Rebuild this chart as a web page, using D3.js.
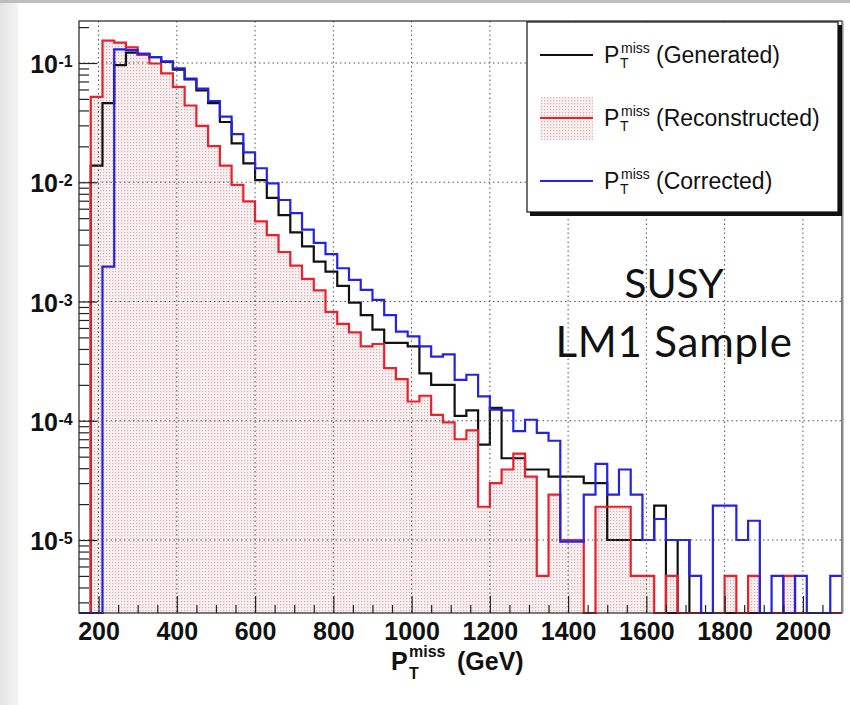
<!DOCTYPE html>
<html>
<head>
<meta charset="utf-8">
<script src="https://cdnjs.cloudflare.com/ajax/libs/d3/7.8.5/d3.min.js"></script>
<style>
  html, body { margin: 0; padding: 0; background: #fff; }
  svg { display: block; }
</style>
</head>
<body>
<div id="chart"></div>
<script>
// histogram binning (GeV)
const binStart = 150;
const binWidth = 30;

// P_T^miss (Generated)
const generated = [
  0, 0.0138, 0.046, 0.096, 0.122, 0.118, 0.112, 0.102, 0.088, 0.073,
  0.059, 0.046, 0.032, 0.0212, 0.0144, 0.0104, 0.0074, 0.0053, 0.0038, 0.0029,
  0.00216, 0.00178, 0.00135, 0.00098, 0.00077, 0.00058, 0.00045, 0.00045, 0.00042, 0.00025,
  0.0002, 0.0002, 0.00011, 0.000122, 0.000063, 0.000128, 0.0000485, 0.0000485, 0.000039, 0.000039,
  0.000034, 0.000034, 0.000034, 0.00003, 0.00003, 0.00001, 0.00001, 0.00001, 0.00001, 0.0000194,
  0, 0.00001, 0, 0, 0, 0, 0, 0, 0, 0,
  0, 0, 0, 0, 0
];
// P_T^miss (Reconstructed)
const reconstructed = [
  0, 0.052, 0.154, 0.148, 0.135, 0.117, 0.099, 0.082, 0.063, 0.044,
  0.0297, 0.0201, 0.0138, 0.0095, 0.0069, 0.0047, 0.0036, 0.0026, 0.002, 0.00155,
  0.00124, 0.00082, 0.00065, 0.00055, 0.00042, 0.00044, 0.000276, 0.000223, 0.000145, 0.000162,
  0.000112, 0.000097, 0.00007, 0.000083, 0.000019, 0.00003, 0.000039, 0.000053, 0.000034, 0.000005,
  0.000024, 0.00001, 0.00001, 0, 0.000019, 0.000019, 0.000019, 0.000005, 0.000005, 0,
  0.000005, 0, 0, 0, 0, 0.000005, 0, 0.000005, 0, 0,
  0.000005, 0, 0, 0, 0
];
// P_T^miss (Corrected)
const corrected = [
  0, 0, 0.00196, 0.130, 0.128, 0.12, 0.112, 0.103, 0.090, 0.074,
  0.061, 0.048, 0.0355, 0.0253, 0.0178, 0.0131, 0.0098, 0.0071, 0.0055, 0.004,
  0.0031, 0.0025, 0.0019, 0.00152, 0.00125, 0.00103, 0.00077, 0.00056, 0.00051, 0.00042,
  0.000345, 0.00036, 0.00022, 0.000243, 0.00016, 0.000124, 0.000122, 0.000082, 0.000102, 0.000079,
  0.000068, 0.0000097, 0.0000097, 0.000024, 0.0000435, 0.000024, 0.000039, 0.000024, 0.00001, 0.000015,
  0.00001, 0.00001, 0.000005, 0, 0.0000194, 0.0000194, 0.00001, 0.0000145, 0, 0.000005,
  0, 0.000005, 0, 0, 0.000005
];

const xTicksMajor = [200, 400, 600, 800, 1000, 1200, 1400, 1600, 1800, 2000];
const yDecades = [1e-1, 1e-2, 1e-3, 1e-4, 1e-5];
const yExponents = ["-1", "-2", "-3", "-4", "-5"];
const legendLabels = ["(Generated)", "(Reconstructed)", "(Corrected)"];

const W = 850, H = 705;
const frame = { left: 79, right: 842, top: 21, bottom: 613 };
const yMin = 2.443e-6, yMax = 0.225;

const svg = d3.select("#chart").append("svg")
  .attr("width", W).attr("height", H);

const defs = svg.append("defs");
const bgGrad = defs.append("linearGradient").attr("id", "leftGrad")
  .attr("x1", 0).attr("x2", 1).attr("y1", 0).attr("y2", 0);
bgGrad.append("stop").attr("offset", "0%").attr("stop-color", "#e4e4e4");
bgGrad.append("stop").attr("offset", "100%").attr("stop-color", "#f4f4f4");

// dotted pink fill like ROOT fill style
const pat = defs.append("pattern").attr("id", "dots")
  .attr("width", 3).attr("height", 3).attr("patternUnits", "userSpaceOnUse");
pat.append("rect").attr("width", 3).attr("height", 3).attr("fill", "#f8f0f0");
pat.append("rect").attr("x", 1).attr("y", 1).attr("width", 1.2).attr("height", 1.2).attr("fill", "#d9b3b3");

defs.append("clipPath").attr("id", "frameClip").append("rect")
  .attr("x", frame.left).attr("y", frame.top - 2)
  .attr("width", frame.right - frame.left).attr("height", frame.bottom - frame.top + 3);

// page background
svg.append("rect").attr("width", W).attr("height", H).attr("fill", "#fff");
svg.append("rect").attr("width", 18).attr("height", H).attr("fill", "url(#leftGrad)");
svg.append("rect").attr("width", W).attr("height", 3).attr("fill", "#bdbdbd");

const x = d3.scaleLinear().domain([150, 2100]).range([frame.left, frame.right]);
const y = d3.scaleLog().domain([yMin, yMax]).range([frame.bottom, frame.top]);

function stepPoints(vals) {
  const pts = vals.map((v, i) => [binStart + i * binWidth, Math.max(v, yMin)]);
  pts.push([binStart + vals.length * binWidth, Math.max(vals[vals.length - 1], yMin)]);
  return pts;
}

const line = d3.line().x(d => x(d[0])).y(d => y(d[1])).curve(d3.curveStepAfter);
const area = d3.area().x(d => x(d[0])).y0(frame.bottom).y1(d => y(d[1])).curve(d3.curveStepAfter);

// plot frame
svg.append("rect")
  .attr("x", frame.left).attr("y", frame.top)
  .attr("width", frame.right - frame.left).attr("height", frame.bottom - frame.top)
  .attr("fill", "#fff");

const plot = svg.append("g").attr("clip-path", "url(#frameClip)");

plot.append("path").datum(stepPoints(reconstructed))
  .attr("d", area).attr("fill", "url(#dots)");

// grid
const grid = svg.append("g").attr("stroke", "#555").attr("stroke-width", 1)
  .attr("stroke-dasharray", "1.5,3");
grid.selectAll(".gx").data(xTicksMajor).enter().append("line")
  .attr("x1", d => x(d)).attr("x2", d => x(d))
  .attr("y1", frame.top).attr("y2", frame.bottom);
grid.selectAll(".gy").data(yDecades).enter().append("line")
  .attr("y1", d => y(d)).attr("y2", d => y(d))
  .attr("x1", frame.left).attr("x2", frame.right);

const series = [
  { vals: generated, color: "#111" },
  { vals: reconstructed, color: "#e8222c" },
  { vals: corrected, color: "#2222e8" }
];
series.forEach(s => {
  plot.append("path").datum(stepPoints(s.vals))
    .attr("d", line).attr("fill", "none")
    .attr("stroke", s.color).attr("stroke-width", 2.2);
});

// frame border
svg.append("rect")
  .attr("x", frame.left).attr("y", frame.top)
  .attr("width", frame.right - frame.left).attr("height", frame.bottom - frame.top)
  .attr("fill", "none").attr("stroke", "#222").attr("stroke-width", 1.2);
svg.append("line").attr("x1", frame.right + 0.5).attr("x2", frame.right + 0.5)
  .attr("y1", frame.top).attr("y2", frame.bottom)
  .attr("stroke", "#888").attr("stroke-width", 2);

// x axis ticks (pointing inward)
const xMinor = d3.range(250, 2100, 50).filter(v => v % 200 !== 0);
svg.append("g").attr("transform", `translate(0,${frame.bottom})`)
  .call(d3.axisBottom(x).tickValues(xMinor).tickSize(-8).tickFormat(""))
  .call(g => g.select(".domain").remove())
  .selectAll("line").attr("stroke", "#222").attr("stroke-width", 1.2);
const xAx = svg.append("g").attr("transform", `translate(0,${frame.bottom})`)
  .call(d3.axisBottom(x).tickValues(xTicksMajor).tickSize(-17).tickPadding(0).tickFormat(d => d));
xAx.select(".domain").remove();
xAx.selectAll("line").attr("stroke", "#222").attr("stroke-width", 1.2);
xAx.selectAll("text")
  .attr("y", 27).attr("dy", 0)
  .attr("font-family", "'Liberation Sans', Arial, sans-serif")
  .attr("font-weight", "bold").attr("font-size", 25).attr("fill", "#111");

// y axis ticks
const yMinor = [];
[1e-6, 1e-5, 1e-4, 1e-3, 1e-2, 1e-1].forEach(dec => {
  for (let m = 2; m <= 9; m++) {
    const v = m * dec;
    if (v > yMin && v < yMax) yMinor.push(v);
  }
});
svg.append("g").attr("transform", `translate(${frame.left},0)`)
  .call(d3.axisLeft(y).tickValues(yMinor).tickSize(-10).tickFormat(""))
  .call(g => g.select(".domain").remove())
  .selectAll("line").attr("stroke", "#222").attr("stroke-width", 1.2);
svg.append("g").attr("transform", `translate(${frame.left},0)`)
  .call(d3.axisLeft(y).tickValues(yDecades).tickSize(-18).tickFormat(""))
  .call(g => g.select(".domain").remove())
  .selectAll("line").attr("stroke", "#222").attr("stroke-width", 1.2);

const yLab = svg.append("g")
  .attr("font-family", "'Liberation Sans', Arial, sans-serif")
  .attr("font-weight", "bold").attr("fill", "#111");
yDecades.forEach((d, i) => {
  yLab.append("text").attr("x", 58).attr("y", y(d) + 10)
    .attr("text-anchor", "end").attr("font-size", 25).text("10");
  yLab.append("text").attr("x", 58.5).attr("y", y(d) + 4)
    .attr("font-size", 16).text(yExponents[i]);
});

// x axis title
const xt = svg.append("g")
  .attr("font-family", "'Liberation Sans', Arial, sans-serif")
  .attr("font-weight", "bold").attr("fill", "#111");
xt.append("text").attr("x", 391).attr("y", 670).attr("font-size", 25).text("P");
xt.append("text").attr("x", 409).attr("y", 657).attr("font-size", 16).text("miss");
xt.append("text").attr("x", 409).attr("y", 679).attr("font-size", 16).text("T");
xt.append("text").attr("x", 457).attr("y", 670).attr("font-size", 25).text("(GeV)");

// legend
const leg = svg.append("g");
leg.append("rect").attr("x", 530).attr("y", 25).attr("width", 312).attr("height", 191).attr("fill", "#111");
leg.append("rect").attr("x", 527).attr("y", 22).attr("width", 311).attr("height", 190)
  .attr("fill", "#fff").attr("stroke", "#111").attr("stroke-width", 1.2);
const legBase = [63, 126, 189];
leg.append("rect").attr("x", 540).attr("y", 97).attr("width", 53).attr("height", 43).attr("fill", "url(#dots)");
series.forEach((s, i) => {
  leg.append("line").attr("x1", 540).attr("x2", 593)
    .attr("y1", legBase[i] - 8).attr("y2", legBase[i] - 8)
    .attr("stroke", s.color).attr("stroke-width", 2.2);
  const t = leg.append("g").attr("font-family", "'Liberation Sans', Arial, sans-serif").attr("fill", "#111");
  t.append("text").attr("x", 604).attr("y", legBase[i]).attr("font-size", 23).text("P");
  t.append("text").attr("x", 621).attr("y", legBase[i] - 10).attr("font-size", 14).text("miss");
  t.append("text").attr("x", 620).attr("y", legBase[i] + 5).attr("font-size", 14).text("T");
  t.append("text").attr("x", 656).attr("y", legBase[i]).attr("font-size", 23).text(legendLabels[i]);
});

// annotation
const ann = svg.append("g").attr("font-family", "Lato, 'Open Sans', sans-serif")
  .attr("fill", "#111").attr("text-anchor", "middle");
ann.append("text").attr("x", 674).attr("y", 298).attr("font-size", 41).text("SUSY");
ann.append("text").attr("x", 674).attr("y", 357).attr("font-size", 42)
  .attr("letter-spacing", 0.8).text("LM1 Sample");
</script>
</body>
</html>
